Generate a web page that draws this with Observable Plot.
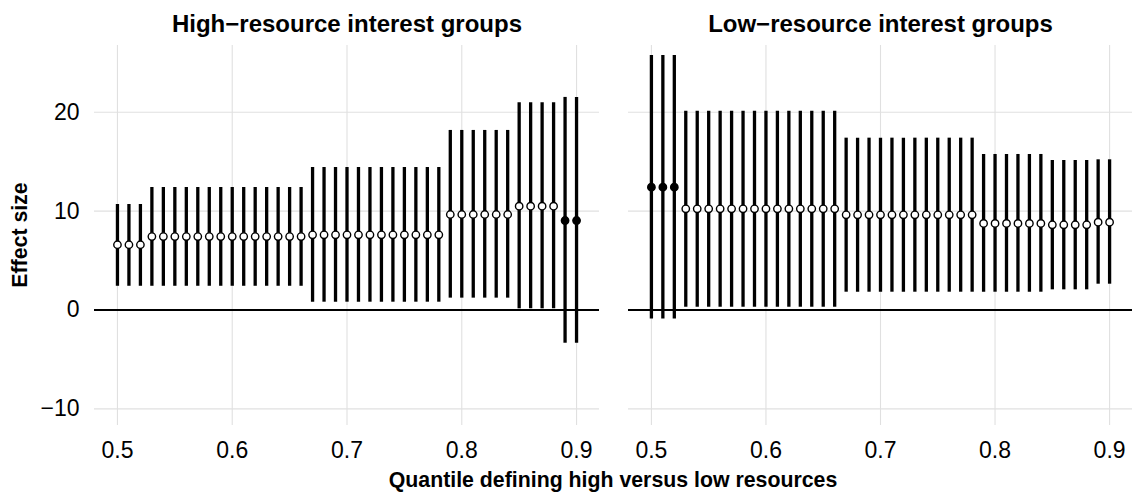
<!DOCTYPE html>
<html>
<head>
<meta charset="utf-8">
<script src="https://cdn.jsdelivr.net/npm/d3@7"></script>
<script src="https://cdn.jsdelivr.net/npm/@observablehq/plot@0.6"></script>
<style>
  body { margin: 0; background: #fff; font-family: "Liberation Sans", Arial, Helvetica, sans-serif; }
  #wrap { position: relative; width: 1132px; height: 494px; overflow: hidden; }
  #p1 { position: absolute; left: 0; top: 0; }
  #p2 { position: absolute; left: 599px; top: 0; }
  #xt { position: absolute; left: 94px; width: 1038px; top: 470px; text-align: center;
        font-weight: bold; font-size: 21.3px; line-height: 21px; color: #000; white-space: nowrap; }
  #yt { position: absolute; left: -130px; width: 300px; top: 223px; height: 24px; line-height: 24px;
        text-align: center; font-weight: bold; font-size: 21.3px; color: #000;
        transform: rotate(-90deg); white-space: nowrap; }
</style>
</head>
<body>
<div id="wrap">
  <div id="p1"></div>
  <div id="p2"></div>
  <div id="yt">Effect size</div>
  <div id="xt">Quantile defining high versus low resources</div>
</div>
<script>
// ---- data ----
const quantile = [0.50,0.51,0.52,0.53,0.54,0.55,0.56,0.57,0.58,0.59,0.60,0.61,0.62,0.63,0.64,0.65,0.66,
                  0.67,0.68,0.69,0.70,0.71,0.72,0.73,0.74,0.75,0.76,0.77,0.78,
                  0.79,0.80,0.81,0.82,0.83,0.84,0.85,0.86,0.87,0.88,0.89,0.90];

const panelTitles = ["High\u2212resource interest groups", "Low\u2212resource interest groups"];
const xTicks = [0.5, 0.6, 0.7, 0.8, 0.9];
const yTicks = [-10, 0, 10, 20];

const highEst = [6.6,6.6,6.6,
  7.43,7.43,7.43,7.43,7.43,7.43,7.43,7.43,7.43,7.43,7.43,7.43,7.43,7.43,
  7.6,7.6,7.6,7.6,7.6,7.6,7.6,7.6,7.6,7.6,7.6,7.6,
  9.66,9.66,9.66,9.66,9.66,9.66,
  10.5,10.5,10.5,10.5,
  9.05,9.05];
const highLo = [2.4,2.4,2.4,
  2.4,2.4,2.4,2.4,2.4,2.4,2.4,2.4,2.4,2.4,2.4,2.4,2.4,2.4,
  0.79,0.79,0.79,0.79,0.79,0.79,0.79,0.79,0.79,0.79,0.79,0.79,
  1.2,1.2,1.2,1.2,1.2,1.2,
  0.12,0.12,0.12,0.12,
  -3.36,-3.36];
const highHi = [10.67,10.67,10.67,
  12.39,12.39,12.39,12.39,12.39,12.39,12.39,12.39,12.39,12.39,12.39,12.39,12.39,12.39,
  14.41,14.41,14.41,14.41,14.41,14.41,14.41,14.41,14.41,14.41,14.41,14.41,
  18.16,18.16,18.16,18.16,18.16,18.16,
  20.96,20.96,20.96,20.96,
  21.5,21.5];

const lowEst = [12.42,12.42,12.42,
  10.23,10.23,10.23,10.23,10.23,10.23,10.23,10.23,10.23,10.23,10.23,10.23,10.23,10.23,
  9.63,9.63,9.63,9.63,9.63,9.63,9.63,9.63,9.63,9.63,9.63,9.63,
  8.75,8.75,8.75,8.75,8.75,8.75,
  8.62,8.62,8.62,8.62,
  8.88,8.88];
const lowLo = [-0.9,-0.9,-0.9,
  0.28,0.28,0.28,0.28,0.28,0.28,0.28,0.28,0.28,0.28,0.28,0.28,0.28,0.28,
  1.8,1.8,1.8,1.8,1.8,1.8,1.8,1.8,1.8,1.8,1.8,1.8,
  1.8,1.8,1.8,1.8,1.8,1.8,
  2.04,2.04,2.04,2.04,
  2.61,2.61];
const lowHi = [25.74,25.74,25.74,
  20.1,20.1,20.1,20.1,20.1,20.1,20.1,20.1,20.1,20.1,20.1,20.1,20.1,20.1,
  17.38,17.38,17.38,17.38,17.38,17.38,17.38,17.38,17.38,17.38,17.38,17.38,
  15.73,15.73,15.73,15.73,15.73,15.73,
  15.12,15.12,15.12,15.12,
  15.19,15.19];

function panel(title, est, lo, hi, width, marginLeft, showY) {
  const rows = quantile.map((q, i) => ({q, est: est[i], lo: lo[i], hi: hi[i], sig: lo[i] > 0 || hi[i] < 0}));
  return Plot.plot({
    width, height: 494,
    marginLeft, marginRight: 0, marginTop: 45, marginBottom: 69,
    style: {fontFamily: '"Liberation Sans", Arial, Helvetica, sans-serif', fontSize: "23px", color: "#000", background: "transparent", overflow: "visible"},
    x: {domain: [0.48, 0.92], ticks: xTicks, tickSize: 0, tickPadding: 16, tickFormat: d => d.toFixed(1), label: null},
    y: showY ? {domain: [-11.68, 26.75], ticks: yTicks, tickSize: 0, tickPadding: 15, label: null}
             : {domain: [-11.68, 26.75], axis: null},
    marks: [
      Plot.ruleX(xTicks, {stroke: "#e0e0e0", strokeWidth: 1.1}),
      Plot.ruleY(yTicks, {stroke: "#e0e0e0", strokeWidth: 1.1}),
      Plot.ruleY([0], {stroke: "#000", strokeWidth: 2}),
      Plot.ruleX(rows, {x: "q", y1: "lo", y2: "hi", stroke: "#000", strokeWidth: 3.3}),
      Plot.dot(rows.filter(d => d.sig), {x: "q", y: "est", r: 3.7, fill: "#fff", stroke: "#000", strokeWidth: 1.4}),
      Plot.dot(rows.filter(d => !d.sig), {x: "q", y: "est", r: 3.7, fill: "#000", stroke: "#000", strokeWidth: 1.4}),
      Plot.text([title], {text: d => d, frameAnchor: "top", dy: -21, lineAnchor: "middle", fontWeight: "bold", fontSize: 24, fill: "#000"})
    ]
  });
}

document.getElementById("p1").appendChild(panel(panelTitles[0], highEst, highLo, highHi, 599, 94, true));
document.getElementById("p2").appendChild(panel(panelTitles[1], lowEst, lowLo, lowHi, 533, 29, false));
</script>
</body>
</html>
